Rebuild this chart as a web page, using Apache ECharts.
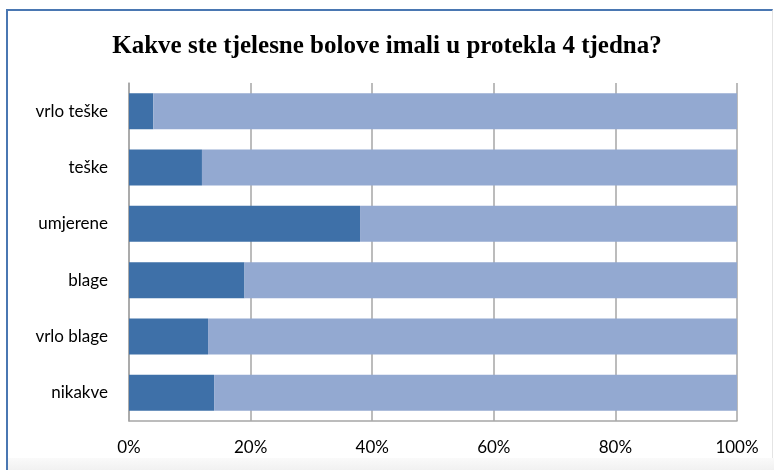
<!DOCTYPE html>
<html>
<head>
<meta charset="utf-8">
<script src="https://cdn.jsdelivr.net/npm/echarts@6/dist/echarts.min.js"></script>
<style>
html,body{margin:0;padding:0;background:#fff;}
#frame{position:absolute;left:6px;top:9px;width:767px;height:470px;border-left:2px solid #4A77B2;border-top:2px solid #4A77B2;border-right:1px solid #e4e4e4;box-sizing:border-box;}
#shade{position:absolute;left:8px;top:458px;width:766px;height:12px;background:linear-gradient(#fafafa,#f1f1f1);}
#chart{position:absolute;left:0;top:0;width:774px;height:470px;}
</style>
</head>
<body>
<div id="frame"></div>
<div id="shade"></div>
<div id="chart"></div>
<script>
const title = 'Kakve ste tjelesne bolove imali u protekla 4 tjedna?';
const categories = ['vrlo teške', 'teške', 'umjerene', 'blage', 'vrlo blage', 'nikakve'];
const darkValues = [4, 12, 38, 19, 13, 14];
const lightValues = [96, 88, 62, 81, 87, 86];
const xTicks = [0, 20, 40, 60, 80, 100];

const chart = echarts.init(document.getElementById('chart'));
chart.setOption({
  animation: false,
  title: {
    text: title,
    left: 'center',
    top: 29,
    textStyle: {fontFamily: 'Liberation Serif', fontWeight: 'bold', fontSize: 25, color: '#000'}
  },
  grid: {left: 129, right: 37, top: 83, bottom: 49, containLabel: false},
  xAxis: {
    type: 'value',
    min: xTicks[0],
    max: xTicks[xTicks.length - 1],
    interval: xTicks[1] - xTicks[0],
    axisLabel: {formatter: '{value}%', fontFamily: 'Lato', fontSize: 17, color: '#000', margin: 18},
    axisLine: {show: true, lineStyle: {color: '#A6A6A6', width: 1.5}},
    axisTick: {show: false},
    splitLine: {show: true, lineStyle: {color: '#A6A6A6', width: 1.5}}
  },
  yAxis: {
    type: 'category',
    data: categories,
    inverse: true,
    axisLabel: {fontFamily: 'Lato', fontSize: 17, color: '#000', margin: 21},
    axisLine: {show: true, lineStyle: {color: '#A6A6A6', width: 1.5}},
    axisTick: {show: false}
  },
  series: [
    {type: 'bar', stack: 'a', data: darkValues, barWidth: '64%', itemStyle: {color: '#3E70A8'}},
    {type: 'bar', stack: 'a', data: lightValues, barWidth: '64%', itemStyle: {color: '#93A9D1'}}
  ]
});
</script>
</body>
</html>
